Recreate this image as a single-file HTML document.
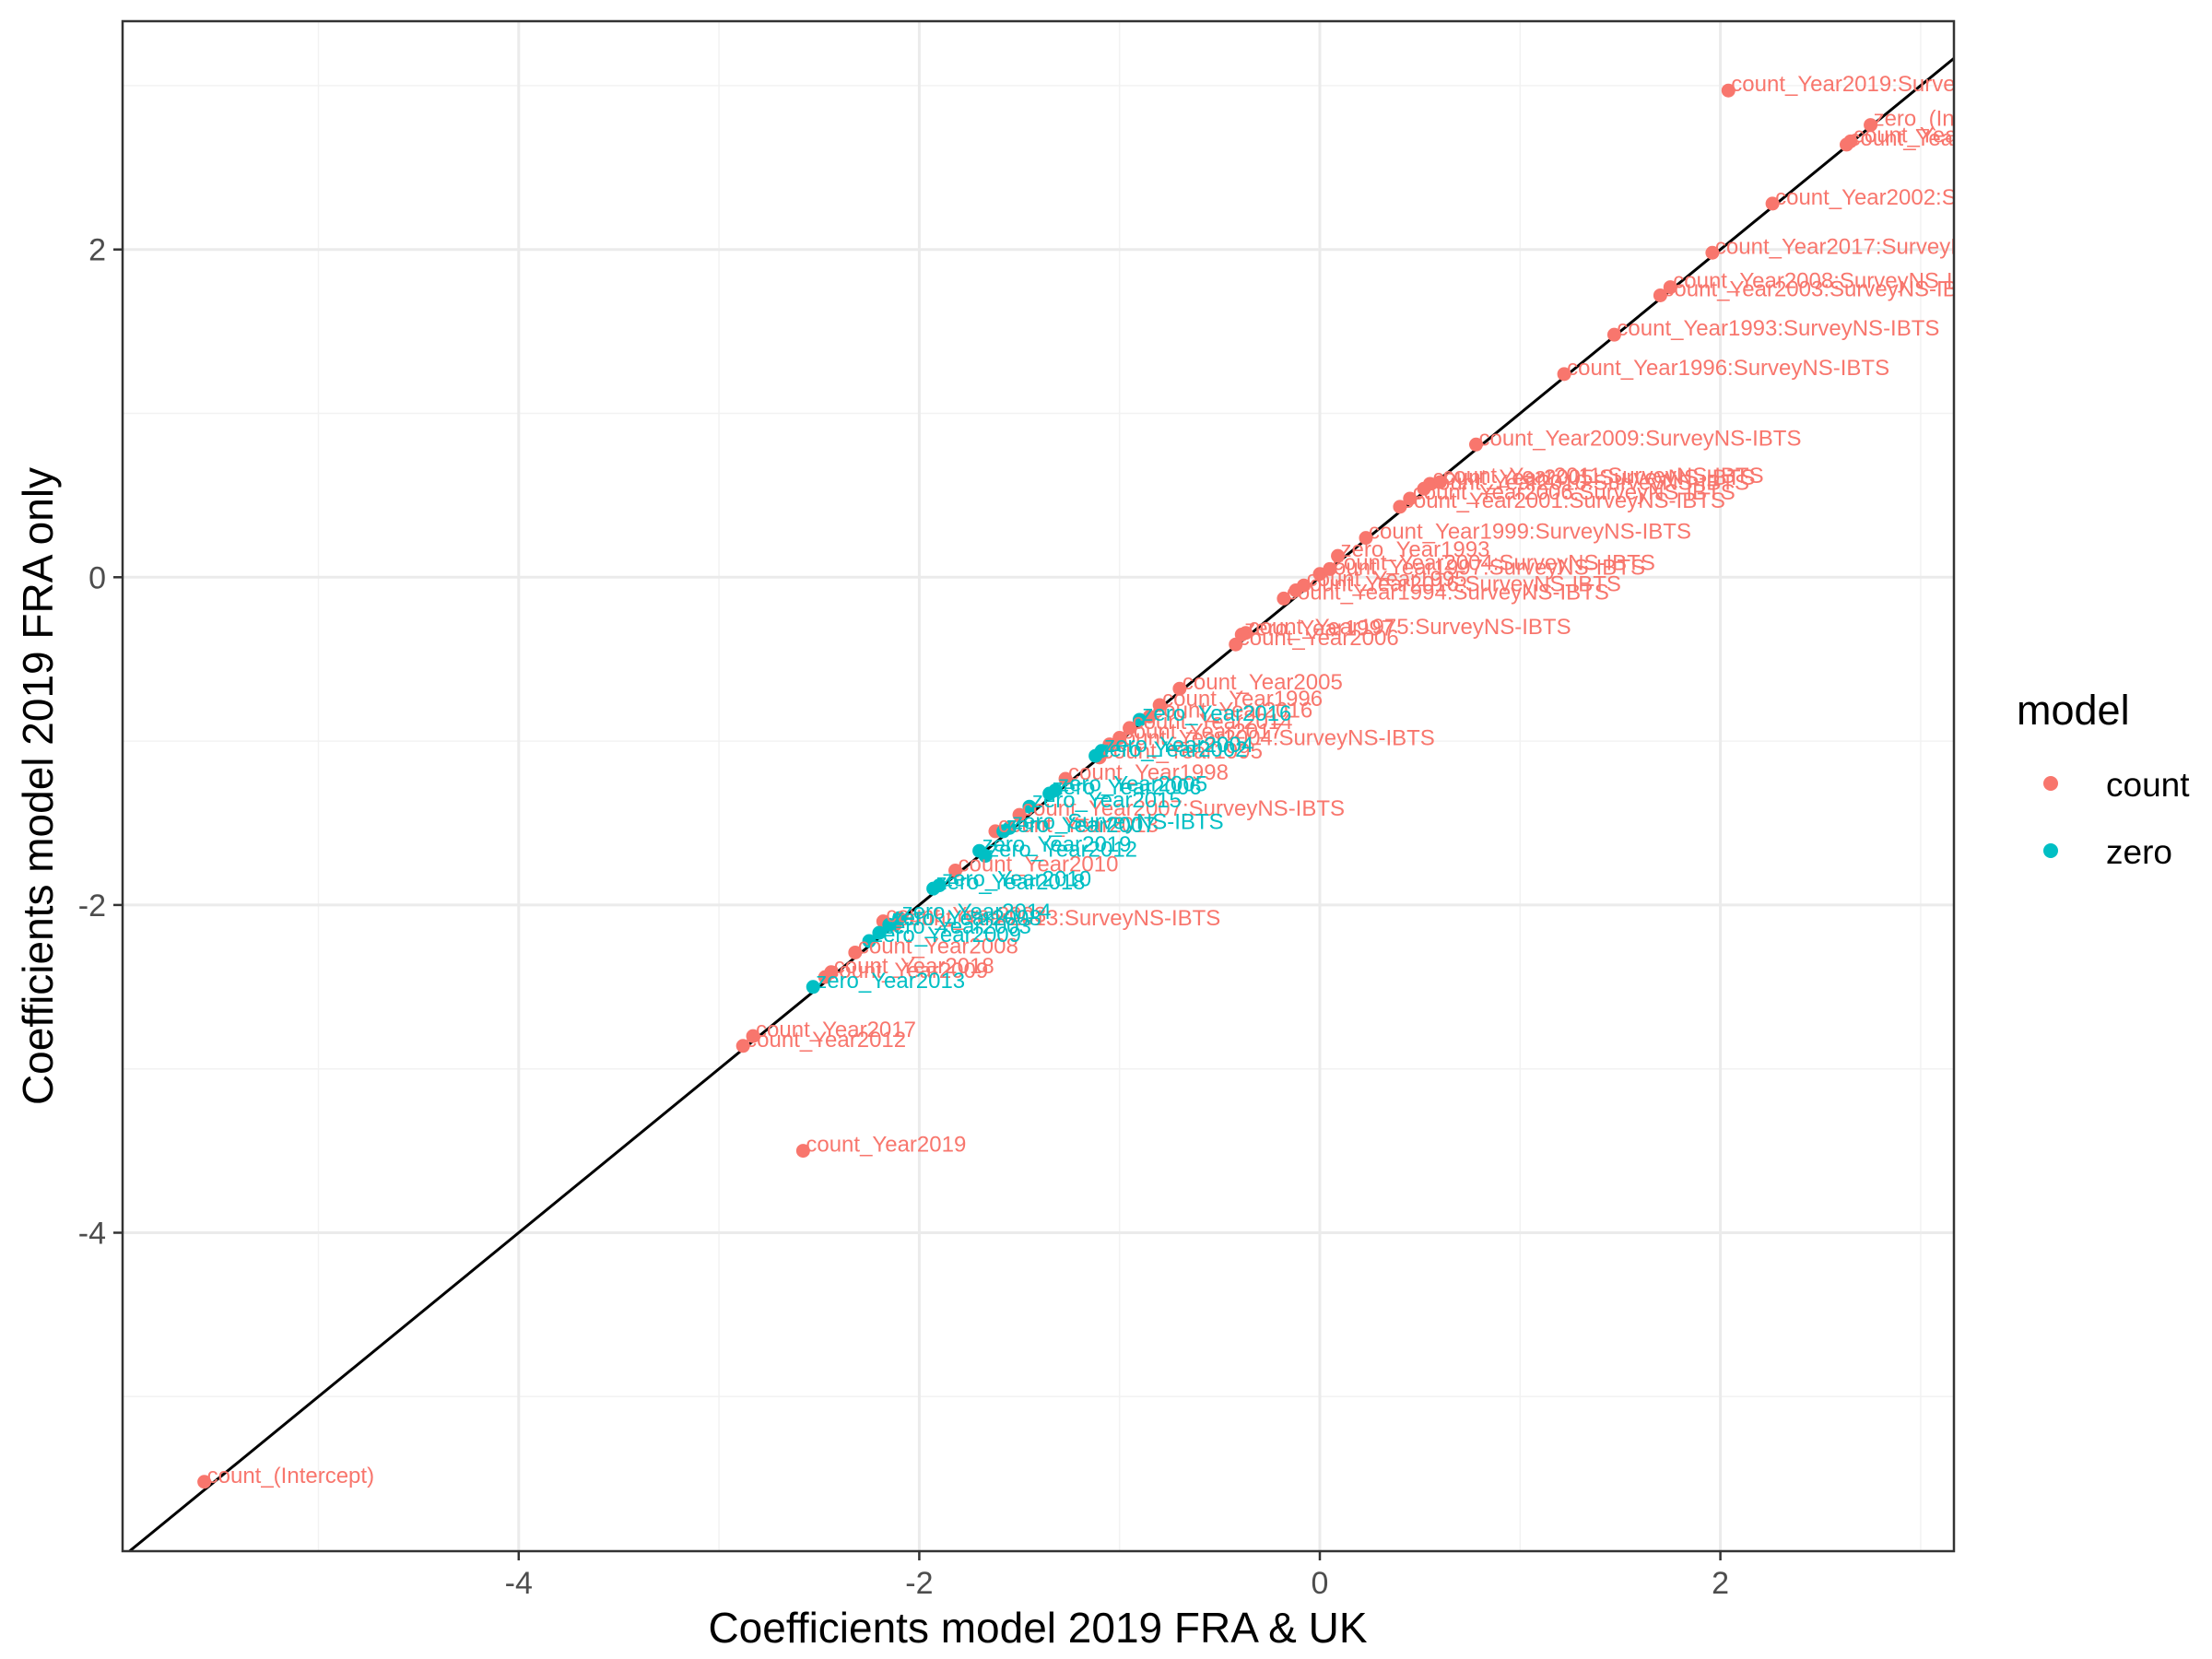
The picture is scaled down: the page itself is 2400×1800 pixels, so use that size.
<!DOCTYPE html>
<html><head><meta charset="utf-8"><style>
html,body{margin:0;padding:0;background:#fff;}
svg{display:block;font-family:"Liberation Sans",Arial,sans-serif;}
</style></head><body>
<svg id="chart" width="2400" height="1800" viewBox="0 0 2400 1800" xmlns="http://www.w3.org/2000/svg">
<defs><clipPath id="pc"><rect x="133" y="23" width="1987" height="1660"/></clipPath></defs>
<rect x="0" y="0" width="2400" height="1800" fill="#fff"/>
<g id="grid"></g>
<line id="ref" stroke="#000" stroke-width="3" clip-path="url(#pc)"/>
<g id="marks" clip-path="url(#pc)"></g>
<rect x="133" y="23" width="1987" height="1660" fill="none" stroke="#333" stroke-width="2.5"/>
<g id="axes"></g>
<text x="1126" y="1782" font-size="46" text-anchor="middle" fill="#000">Coefficients model 2019 FRA &amp; UK</text>
<text transform="translate(57,853) rotate(-90)" font-size="46" text-anchor="middle" fill="#000">Coefficients model 2019 FRA only</text>
<g>
<text x="2188" y="786" font-size="45" fill="#000">model</text>
<g><circle cx="2225" cy="850" r="8" fill="#F8766D"/><text x="2285" y="864" font-size="37" fill="#000">count</text></g>
<g><circle cx="2225" cy="923" r="8" fill="#00BFC4"/><text x="2285" y="937" font-size="37" fill="#000">zero</text></g>
</g>
</svg>
<script>
const xs = [-5.57,-2.58,-2.88,-2.83,-2.47,-2.44,-2.32,-2.18,-2.12,-1.82,-1.62,-1.50,-1.27,-1.10,-1.05,-1.0,-0.95,-0.85,-0.80,-0.70,-0.42,-0.37,-0.18,-0.12,-0.08,0.0,0.05,0.40,0.45,0.52,0.55,0.60,0.23,0.78,1.22,1.47,1.70,1.75,1.96,2.26,2.63,2.65,2.04,2.75,0.09,-0.39,
-2.53,-2.25,-2.20,-2.15,-2.10,-1.93,-1.90,-1.70,-1.67,-1.58,-1.55,-1.45,-1.35,-1.32,-1.12,-1.09,-0.90];
const ys = [-5.52,-3.50,-2.86,-2.80,-2.44,-2.41,-2.29,-2.10,-2.12,-1.79,-1.55,-1.45,-1.23,-1.10,-1.02,-0.98,-0.92,-0.85,-0.78,-0.68,-0.41,-0.34,-0.13,-0.08,-0.05,0.02,0.05,0.43,0.48,0.54,0.57,0.58,0.24,0.81,1.24,1.48,1.72,1.77,1.98,2.28,2.64,2.66,2.97,2.76,0.13,-0.35,
-2.50,-2.22,-2.17,-2.12,-2.08,-1.90,-1.88,-1.67,-1.70,-1.55,-1.53,-1.40,-1.32,-1.30,-1.09,-1.06,-0.87];
const labels = ["count_(Intercept)","count_Year2019","count_Year2012","count_Year2017","count_Year2009","count_Year2018","count_Year2008","count_Year2003","count_Year2013:SurveyNS-IBTS","count_Year2010","count_Year2013","count_Year2007:SurveyNS-IBTS","count_Year1998","count_Year1995","count_Year2004:SurveyNS-IBTS","count_Year2017","count_Year2014","count_Year2016","count_Year1996","count_Year2005","count_Year2006","count_Year1975:SurveyNS-IBTS","count_Year1994:SurveyNS-IBTS","count_Year2016:SurveyNS-IBTS","count_Year1995","count_Year1997:SurveyNS-IBTS","count_Year2004:SurveyNS-IBTS","count_Year2001:SurveyNS-IBTS","count_Year2006:SurveyNS-IBTS","count_Year2010:SurveyNS-IBTS","count_Year2005:SurveyNS-IBTS","count_Year2011:SurveyNS-IBTS","count_Year1999:SurveyNS-IBTS","count_Year2009:SurveyNS-IBTS","count_Year1996:SurveyNS-IBTS","count_Year1993:SurveyNS-IBTS","count_Year2003:SurveyNS-IBTS","count_Year2008:SurveyNS-IBTS","count_Year2017:SurveyNS-IBTS","count_Year2002:SurveyNS-IBTS","count_Year2018:SurveyNS-IBTS","count_Year2007:SurveyNS-IBTS","count_Year2019:SurveyNS-IBTS","zero_(Intercept)","zero_Year1993","zero_Year1997",
"zero_Year2013","zero_Year2009","zero_Year2003","zero_Year2008","zero_Year2014","zero_Year2018","zero_Year2010","zero_Year2019","zero_Year2012","zero_Year2007","zero_SurveyNS-IBTS","zero_Year2015","zero_Year2006","zero_Year2005","zero_Year2002","zero_Year2004","zero_Year2016"];
const models = ["count","count","count","count","count","count","count","count","count","count","count","count","count","count","count","count","count","count","count","count","count","count","count","count","count","count","count","count","count","count","count","count","count","count","count","count","count","count","count","count","count","count","count","count","count","count",
"zero","zero","zero","zero","zero","zero","zero","zero","zero","zero","zero","zero","zero","zero","zero","zero","zero"];
const xTicks = [-4,-2,0,2];
const yTicks = [2,0,-2,-4];
const xMinor = [-5,-3,-1,1,3];
const yMinor = [3,1,-1,-3,-5];

const PL=133, PR=2120, PT=23, PB=1683;
const X0=1432, XU=217.3, Y0=626.3, YU=177.8;
const sx = v => X0 + v*XU;
const sy = v => Y0 - v*YU;
const NS="http://www.w3.org/2000/svg";
const colors = {count:"#F8766D", zero:"#00BFC4"};
function mk(tag, attrs, parent){const e=document.createElementNS(NS,tag);for(const k in attrs)e.setAttribute(k,attrs[k]);parent.appendChild(e);return e;}

const grid=document.getElementById('grid'), axes=document.getElementById('axes'), marks=document.getElementById('marks');
xMinor.forEach(v=>{const l=mk('line',{x1:sx(v),x2:sx(v),y1:PT,y2:PB,stroke:'#f2f2f2','stroke-width':1.5},grid);

});
yMinor.forEach(v=>{const l=mk('line',{x1:PL,x2:PR,y1:sy(v),y2:sy(v),stroke:'#f2f2f2','stroke-width':1.5},grid);

});
xTicks.forEach(v=>{const l=mk('line',{x1:sx(v),x2:sx(v),y1:PT,y2:PB,stroke:'#ebebeb','stroke-width':3},grid);


const t=mk('line',{x1:sx(v),x2:sx(v),y1:PB,y2:PB+10,stroke:'#333','stroke-width':2.5},axes);


const tx=mk('text',{x:sx(v),y:PB+46,'font-size':34,'text-anchor':'middle',fill:'#4d4d4d'},axes);
tx.textContent=String(v);

});
yTicks.forEach(v=>{const l=mk('line',{x1:PL,x2:PR,y1:sy(v),y2:sy(v),stroke:'#ebebeb','stroke-width':3},grid);


const t=mk('line',{x1:PL-10,x2:PL,y1:sy(v),y2:sy(v),stroke:'#333','stroke-width':2.5},axes);


const tx=mk('text',{x:PL-18,y:sy(v)+12,'font-size':34,'text-anchor':'end',fill:'#4d4d4d'},axes);
tx.textContent=String(v);

});

const ref=document.getElementById('ref');
const lo=-7, hi=5;
ref.setAttribute('x1',sx(lo));ref.setAttribute('y1',sy(lo));ref.setAttribute('x2',sx(hi));ref.setAttribute('y2',sy(hi));

for(let i=0;i<xs.length;i++){
  const c=mk('circle',{cx:sx(xs[i]),cy:sy(ys[i]),r:7.5,fill:colors[models[i]]},marks);
  
  
}
for(let i=0;i<xs.length;i++){
  const t=mk('text',{x:sx(xs[i])+3,y:sy(ys[i])+1,'font-size':24,fill:colors[models[i]]},marks);
  t.textContent=labels[i];
  
  
}
</script>
</body></html>
